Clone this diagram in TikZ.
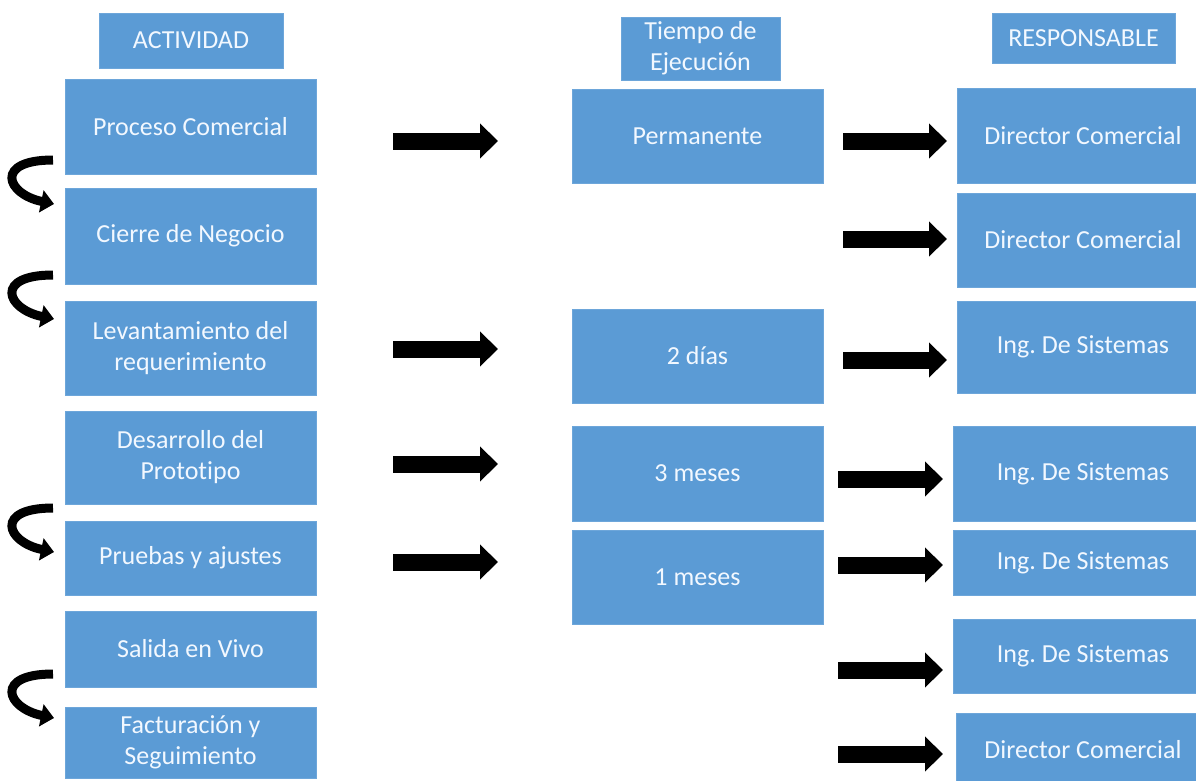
\documentclass[tikz,border=0pt]{standalone}
\usepackage{fontspec}
\setmainfont{Carlito}[Ligatures=NoCommon]
\usetikzlibrary{arrows.meta}
\definecolor{boxblue}{HTML}{5B9BD5}
\definecolor{boxline}{HTML}{6DA6DA}
\definecolor{txt}{HTML}{F2F8FF}
\frenchspacing
\begin{document}
\begin{tikzpicture}[x=1pt,y=-1pt,
  box/.style={rectangle, fill=boxblue, draw=boxline, line width=0.8pt, text=txt,
    align=center, font=\fontsize{26}{31}\selectfont, inner sep=0pt},
  blockarrow/.style={line width=17pt, -{Triangle[length=18pt,width=34pt]}},
  curlarrow/.style={line width=9pt, -{Triangle[length=13pt,width=22pt]}}]
\useasboundingbox (0,0) rectangle (1196,780);
\clip (0,0) rectangle (1196,780);
\fill[white] (0,0) rectangle (1196,780);

% ---------- Actividad column ----------
\node[box, minimum width=184pt, minimum height=55pt] (hact) at (191,40.5) {ACTIVIDAD};
\node[box, minimum width=251pt, minimum height=95pt] (proc) at (190.5,126.5) {Proceso Comercial};
\node[box, minimum width=251pt, minimum height=96pt] (cier) at (190.5,236) {Cierre de Negocio};
\node[box, minimum width=251pt, minimum height=94pt] (leva) at (190.5,348) {Levantamiento del\\requerimiento};
\node[box, minimum width=251pt, minimum height=93pt] (desa) at (190.5,457.5) {Desarrollo del\\Prototipo};
\node[box, minimum width=251pt, minimum height=74pt] (prue) at (190.5,558) {Pruebas y ajustes};
\node[box, minimum width=251pt, minimum height=76pt] (sali) at (190.5,649) {Salida en Vivo};
\node[box, minimum width=251pt, minimum height=71pt] (fact) at (190.5,742.5) {Facturación y\\Seguimiento};

% ---------- Tiempo column ----------
\node[box, minimum width=159pt, minimum height=63pt] (htie) at (700.5,48.5) {Tiempo de\\Ejecución};
\node[box, minimum width=251pt, minimum height=94pt] (perm) at (697.5,136) {Permanente};
\node[box, minimum width=251pt, minimum height=94pt] (dos) at (697.5,356) {2 días};
\node[box, minimum width=251pt, minimum height=95pt] (tres) at (697.5,473.5) {3 meses};
\node[box, minimum width=251pt, minimum height=94pt] (uno) at (697.5,577) {1 meses};

% ---------- Responsable column ----------
\node[box, minimum width=183pt, minimum height=50pt] (hres) at (1083.5,38) {RESPONSABLE};
\node[box, minimum width=252pt, minimum height=95pt] (dc1) at (1083,135.5) {Director Comercial};
\node[box, minimum width=252pt, minimum height=94pt] (dc2) at (1083,240) {Director Comercial};
\node[box, minimum width=252pt, minimum height=92pt] (ing1) at (1083,347) {Ing. De Sistemas};
\node[box, minimum width=260pt, minimum height=95pt] (ing2) at (1083,473.5) {Ing. De Sistemas};
\node[box, minimum width=260pt, minimum height=65pt] (ing3) at (1083,562.5) {Ing. De Sistemas};
\node[box, minimum width=260pt, minimum height=74pt] (ing4) at (1083,656) {Ing. De Sistemas};
\node[box, minimum width=254pt, minimum height=74pt] (dc3) at (1083,750) {Director Comercial};

% ---------- block arrows Actividad -> Tiempo ----------
\coordinate (l1a) at (393,141); \coordinate (l1b) at (498,141);
\coordinate (l2a) at (393,349); \coordinate (l2b) at (498,349);
\coordinate (l3a) at (393,464); \coordinate (l3b) at (498,464);
\coordinate (l4a) at (393,562); \coordinate (l4b) at (498,562);
\draw[blockarrow] (l1a) -- (l1b);
\draw[blockarrow] (l2a) -- (l2b);
\draw[blockarrow] (l3a) -- (l3b);
\draw[blockarrow] (l4a) -- (l4b);

% ---------- block arrows Tiempo -> Responsable ----------
\coordinate (r1a) at (843,141); \coordinate (r1b) at (947,141);
\coordinate (r2a) at (843,239); \coordinate (r2b) at (947,239);
\coordinate (r3a) at (843,360); \coordinate (r3b) at (947,360);
\coordinate (r4a) at (838,479); \coordinate (r4b) at (943,479);
\coordinate (r5a) at (838,565); \coordinate (r5b) at (943,565);
\coordinate (r6a) at (838,670); \coordinate (r6b) at (943,670);
\coordinate (r7a) at (838,754); \coordinate (r7b) at (943,754);
\draw[blockarrow] (r1a) -- (r1b);
\draw[blockarrow] (r2a) -- (r2b);
\draw[blockarrow] (r3a) -- (r3b);
\draw[blockarrow] (r4a) -- (r4b);
\draw[blockarrow] (r5a) -- (r5b);
\draw[blockarrow] (r6a) -- (r6b);
\draw[blockarrow] (r7a) -- (r7b);

% ---------- curled arrows on the left ----------
\coordinate (c1a) at (53,160); \coordinate (c1b) at (54,204);
\coordinate (c2a) at (53,275); \coordinate (c2b) at (54,319);
\coordinate (c3a) at (53,508); \coordinate (c3b) at (54,552);
\coordinate (c4a) at (53,674); \coordinate (c4b) at (54,718);
\draw[curlarrow] (c1a) .. controls (-6,160) and (6,194) .. (c1b);
\draw[curlarrow] (c2a) .. controls (-6,275) and (6,309) .. (c2b);
\draw[curlarrow] (c3a) .. controls (-6,508) and (6,542) .. (c3b);
\draw[curlarrow] (c4a) .. controls (-6,674) and (6,708) .. (c4b);
\end{tikzpicture}
\end{document}
